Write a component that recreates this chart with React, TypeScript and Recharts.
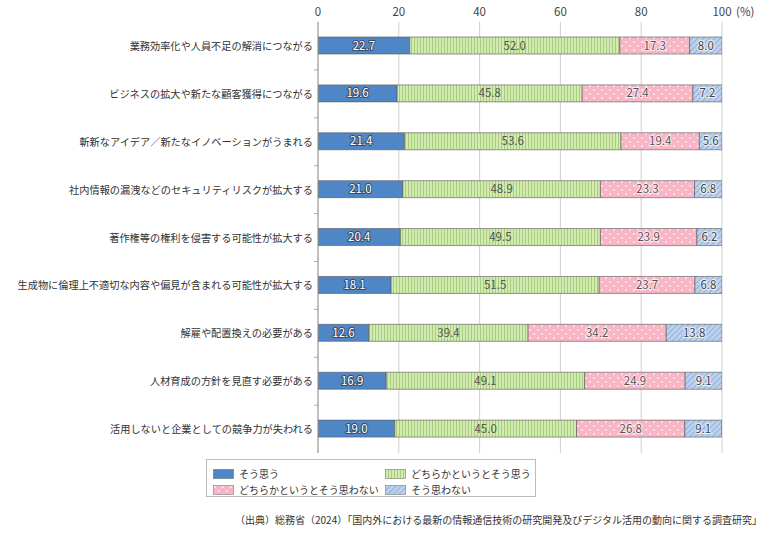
import React from 'react';
import { BarChart, Bar, XAxis, YAxis, CartesianGrid, Legend, LabelList } from 'recharts';

const categories = [
  '業務効率化や人員不足の解消につながる',
  'ビジネスの拡大や新たな顧客獲得につながる',
  '斬新なアイデア／新たなイノベーションがうまれる',
  '社内情報の漏洩などのセキュリティリスクが拡大する',
  '著作権等の権利を侵害する可能性が拡大する',
  '生成物に倫理上不適切な内容や偏見が含まれる可能性が拡大する',
  '解雇や配置換えの必要がある',
  '人材育成の方針を見直す必要がある',
  '活用しないと企業としての競争力が失われる',
];
const agree = [22.7, 19.6, 21.4, 21.0, 20.4, 18.1, 12.6, 16.9, 19.0];
const somewhatAgree = [52.0, 45.8, 53.6, 48.9, 49.5, 51.5, 39.4, 49.1, 45.0];
const somewhatDisagree = [17.3, 27.4, 19.4, 23.3, 23.9, 23.7, 34.2, 24.9, 26.8];
const disagree = [8.0, 7.2, 5.6, 6.8, 6.2, 6.8, 13.8, 9.1, 9.1];
const xTicks = [0, 20, 40, 60, 80, 100];

const seriesNames = ['そう思う', 'どちらかというとそう思う', 'どちらかというとそう思わない', 'そう思わない'];
const source = '（出典）総務省（2024）「国内外における最新の情報通信技術の研究開発及びデジタル活用の動向に関する調査研究」';

const data = categories.map((name, i) => ({
  name,
  agree: agree[i],
  somewhatAgree: somewhatAgree[i],
  somewhatDisagree: somewhatDisagree[i],
  disagree: disagree[i],
}));

const FONT = '"Noto Sans CJK JP", "Noto Sans", sans-serif';

const fills = ['#4f86c6', 'url(#pGreen)', 'url(#pPink)', 'url(#pBlue)'];
const swatchColors = ['#4f86c6', '#c9e4a6', '#f7b7c7', '#b7cdea'];

const makeLabel = (fill: string, stroke: string | null) => (props: any) => {
  const { x, y, width, height, value } = props;
  return (
    <text
      x={x + width / 2}
      y={y + height / 2 + 4}
      textAnchor="middle"
      fontSize={11.5}
      fontFamily={FONT}
      fill={fill}
      stroke={stroke || 'none'}
      strokeWidth={stroke ? 2 : 0}
      paintOrder="stroke"
      strokeLinejoin="round"
    >
      {Number(value).toFixed(1)}
    </text>
  );
};

const XTick = (props: any) => {
  const { x, payload } = props;
  return (
    <g>
      <text x={x} y={16} textAnchor="middle" fontSize={11.5} fontFamily={FONT} fill="#444">
        {payload.value}
      </text>
      {payload.value === 100 && (
        <text x={x + 14} y={16} textAnchor="start" fontSize={11.5} fontFamily={FONT} fill="#444">
          (%)
        </text>
      )}
    </g>
  );
};

// labels right-aligned against the axis, small ticks on the band boundaries
const YTick = (props: any) => {
  const { y, payload, index } = props;
  return (
    <g>
      <text x={313} y={y + 4} textAnchor="end" fontSize={10.2} fontFamily={FONT} fill="#333">
        {payload.value}
      </text>
      {index < categories.length - 1 && (
        <line x1={314} x2={318} y1={y + 24} y2={y + 24} stroke="#aaa" strokeWidth={1} />
      )}
    </g>
  );
};

const LegendBox = () => (
  <div
    style={{
      border: '1px solid #bbb',
      width: 330,
      height: 38,
      boxSizing: 'border-box',
      fontFamily: FONT,
      fontSize: 10,
      color: '#333',
      position: 'relative',
    }}
  >
    {seriesNames.map((n, i) => {
      const col = i === 0 || i === 2 ? 0 : 1;
      const row = i < 2 ? 0 : 1;
      return (
        <div
          key={n}
          style={{
            position: 'absolute',
            left: col === 0 ? 6 : 178,
            top: row === 0 ? 6 : 22,
            display: 'flex',
            alignItems: 'center',
            whiteSpace: 'nowrap',
          }}
        >
          <svg width={21} height={10} style={{ marginRight: 5 }}>
            <rect x={0.5} y={0.5} width={20} height={9} fill={swatchColors[i]} stroke="#888" strokeWidth={0.5} />
            <rect x={0.5} y={0.5} width={20} height={9} fill={fills[i]} stroke="#888" strokeWidth={0.5} />
          </svg>
          <span>{n}</span>
        </div>
      );
    })}
  </div>
);

export default function App() {
  return (
    <div style={{ position: 'absolute', left: 0, top: 0, width: 780, height: 533, background: '#fff' }}>
      <svg width={0} height={0} style={{ position: 'absolute' }}>
        <defs>
          <pattern id="pGreen" width={3} height={4} patternUnits="userSpaceOnUse">
            <rect width={3} height={4} fill="#d3eab5" />
            <rect x={0} width={1} height={4} fill="#a6cf78" />
          </pattern>
          <pattern id="pPink" width={8} height={8} patternUnits="userSpaceOnUse">
            <rect width={8} height={8} fill="#f7b5c5" />
            <circle cx={2} cy={2} r={1.1} fill="#fde8ee" />
            <circle cx={6} cy={6} r={1.1} fill="#fde8ee" />
          </pattern>
          <pattern id="pBlue" width={4} height={4} patternUnits="userSpaceOnUse" patternTransform="rotate(45)">
            <rect width={4} height={4} fill="#bcd2ec" />
            <rect x={0} width={1} height={4} fill="#8fb1dd" />
          </pattern>
        </defs>
      </svg>
      <BarChart
        width={780}
        height={533}
        data={data}
        layout="vertical"
        margin={{ top: 2, right: 58, bottom: 42, left: 0 }}
        barSize={17}
      >
        <CartesianGrid horizontal={false} stroke="#d0d0d0" />
        <XAxis
          type="number"
          orientation="top"
          domain={[0, 100]}
          ticks={xTicks}
          height={20}
          axisLine={false}
          tickLine={false}
          tick={<XTick />}
          allowDataOverflow
        />
        <YAxis
          type="category"
          dataKey="name"
          width={318}
          axisLine={{ stroke: '#999' }}
          tickLine={false}
          tick={<YTick />}
          interval={0}
        />
        <Bar dataKey="agree" stackId="a" fill={fills[0]} stroke="#555" strokeWidth={0.6} isAnimationActive={false}>
          <LabelList dataKey="agree" content={makeLabel('#fff', '#3a4a66')} />
        </Bar>
        <Bar dataKey="somewhatAgree" stackId="a" fill={fills[1]} stroke="#555" strokeWidth={0.6} isAnimationActive={false}>
          <LabelList dataKey="somewhatAgree" content={makeLabel('#555', null)} />
        </Bar>
        <Bar dataKey="somewhatDisagree" stackId="a" fill={fills[2]} stroke="#555" strokeWidth={0.6} isAnimationActive={false}>
          <LabelList dataKey="somewhatDisagree" content={makeLabel('#555', '#fde8ee')} />
        </Bar>
        <Bar dataKey="disagree" stackId="a" fill={fills[3]} stroke="#555" strokeWidth={0.6} isAnimationActive={false}>
          <LabelList dataKey="disagree" content={makeLabel('#444', '#e8f0fa')} />
        </Bar>
        <Legend
          content={<LegendBox />}
          wrapperStyle={{ position: 'absolute', left: 206, top: 459, width: 330, height: 38 }}
        />
      </BarChart>
      <div
        style={{
          position: 'absolute',
          right: 18,
          top: 512,
          fontFamily: FONT,
          fontSize: 10,
          color: '#333',
          whiteSpace: 'nowrap',
        }}
      >
        {source}
      </div>
    </div>
  );
}
